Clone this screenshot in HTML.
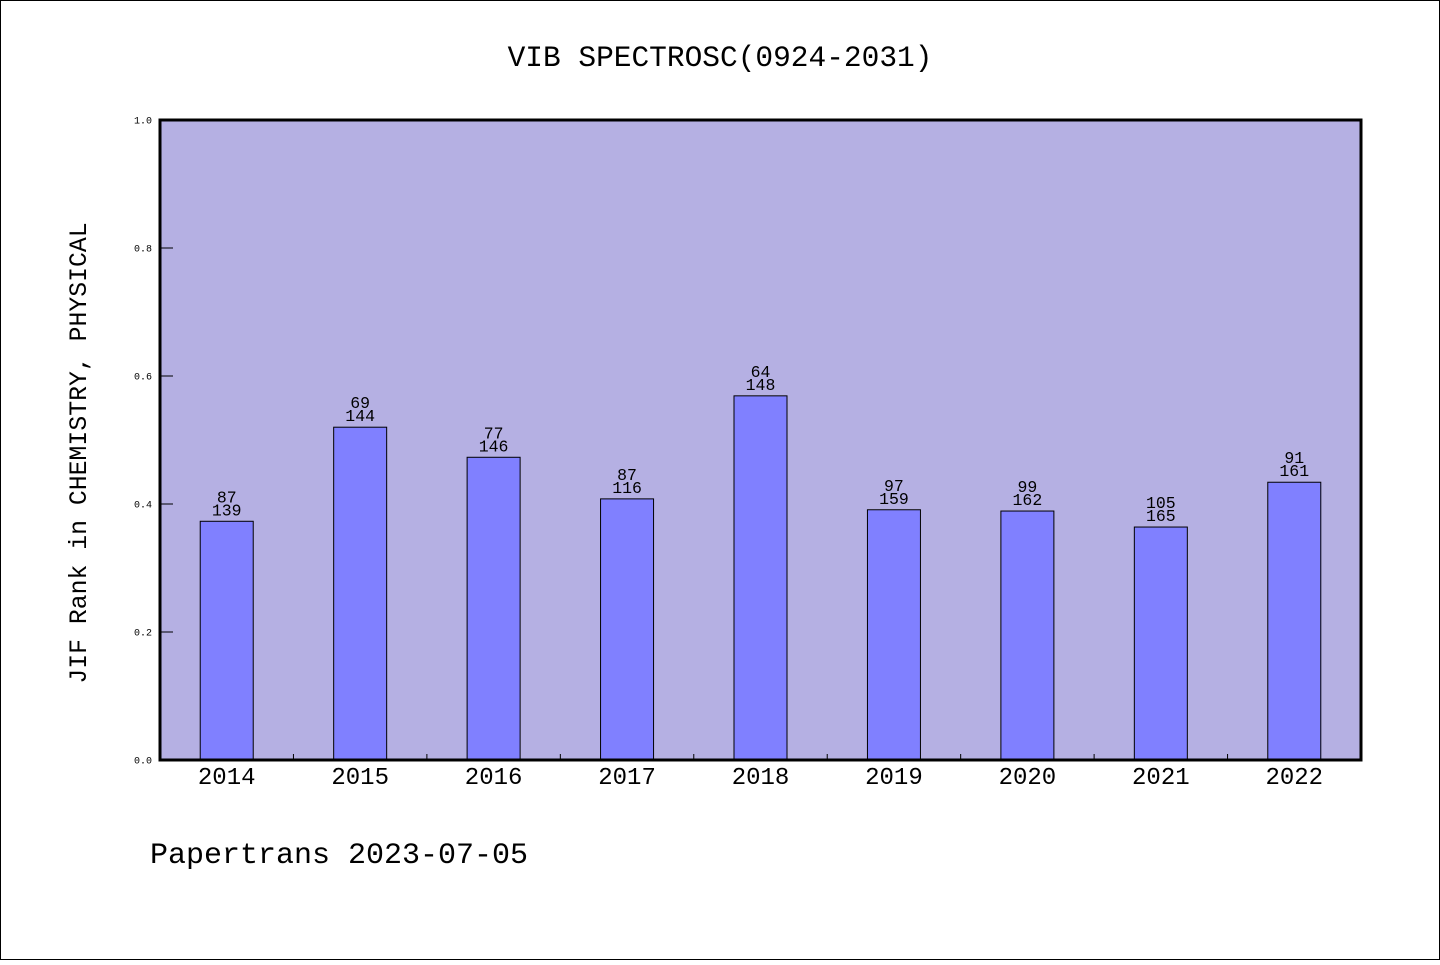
<!DOCTYPE html>
<html><head><meta charset="utf-8"><style>
html,body{margin:0;padding:0;background:#fff}
svg text{font-family:"Liberation Mono","WenQuanYi Zen Hei",monospace}
</style></head><body>
<svg width="1440" height="960" viewBox="0 0 1440 960" xmlns="http://www.w3.org/2000/svg">
<rect x="0.5" y="0.5" width="1439" height="959" fill="#fff" stroke="#000"/>
<text x="720" y="66" text-anchor="middle" font-size="29.5">VIB SPECTROSC(0924-2031)</text>
<rect x="160" y="120" width="1201" height="640" fill="#b5b0e3"/>
<g id="marks"></g>
<rect x="160" y="120" width="1201" height="640" fill="none" stroke="#000" stroke-width="3"/>
<text transform="translate(86,453) rotate(-90)" text-anchor="middle" font-size="24.8">JIF Rank in CHEMISTRY, PHYSICAL</text>
<text x="150" y="863" font-size="30">Papertrans 2023-07-05</text>
</svg>
<script>
const years=['2014','2015','2016','2017','2018','2019','2020','2021','2022'];
const values=[0.373,0.520,0.473,0.408,0.569,0.391,0.389,0.364,0.434];
const ranks=[87,69,77,87,64,97,99,105,91];
const totals=[139,144,146,116,148,159,162,165,161];
const yTicks=[0,0.2,0.4,0.6,0.8,1.0];
const tickLabels=['0.0','0.2','0.4','0.6','0.8','1.0'];
const NS='http://www.w3.org/2000/svg';
const X0=160,W=1201,Y0=760,H=640;
const band=W/years.length;
const xc=i=>X0+band*(i+0.5);
const y=v=>Y0-v*H;
const g=document.getElementById('marks');
function mk(t,a){const e=document.createElementNS(NS,t);for(const k in a)e.setAttribute(k,a[k]);g.appendChild(e);return e;}
yTicks.forEach((v,i)=>{
 const l=mk('line',{x1:X0,x2:X0+13,y1:y(v),y2:y(v),stroke:'#000','stroke-width':1});
 
 
 const t=mk('text',{x:X0-8,y:y(v)+3.5,'text-anchor':'end','font-size':10});
 t.textContent=tickLabels[i];
 
 
});
years.forEach((yr,i)=>{
 const v=values[i];
 const b=mk('rect',{x:xc(i)-26.5,y:y(v),width:53,height:v*H,fill:'#8080ff',stroke:'#000','stroke-width':1});
 
 
 const t1=mk('text',{x:xc(i),y:y(v)-19,'text-anchor':'middle','font-size':16.5});
 t1.textContent=ranks[i];
 
 
 const t2=mk('text',{x:xc(i),y:y(v)-6,'text-anchor':'middle','font-size':16.5});
 t2.textContent=totals[i];
 
 
 const xl=mk('text',{x:xc(i),y:784,'text-anchor':'middle','font-size':24});
 xl.textContent=yr;
 
 
 if(i>0){const tk=mk('line',{x1:X0+band*i,x2:X0+band*i,y1:Y0,y2:Y0-6,stroke:'#000','stroke-width':1});
 
 }
});
</script>
</body></html>
